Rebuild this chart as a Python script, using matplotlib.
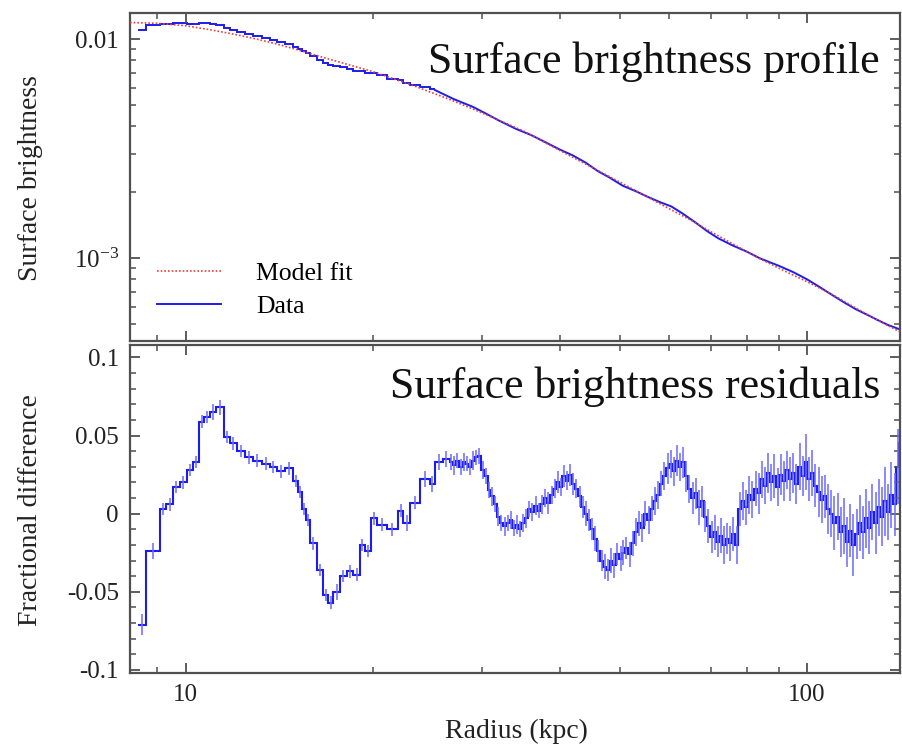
import numpy as np
import matplotlib
matplotlib.use("Agg")
import matplotlib.pyplot as plt
from matplotlib.ticker import LogLocator, NullFormatter, MultipleLocator, FixedLocator

# model fit (radius in kpc, surface brightness)
model_r = [8.13, 9, 10, 11, 12, 13, 14, 15, 17, 20, 23, 26.6, 30, 35, 40, 45, 50, 55,
           60, 65, 70, 76, 83, 90, 100, 110, 120, 130, 141.2]
model_sb = [0.0119, 0.0118, 0.0115, 0.0110, 0.0105, 0.0100, 0.0095, 0.0090, 0.0081, 0.0071,
            0.0062, 0.0053, 0.0046, 0.0038, 0.0031, 0.0026, 0.00222, 0.00192, 0.00168,
            0.00149, 0.00132, 0.00116, 0.00101, 0.00090, 0.00078, 0.00068, 0.00059,
            0.00052, 0.00046]

# data profile, binned in the core
sb_edges = [8.37, 8.62, 9.08, 9.30, 9.54, 9.78, 10.03, 10.27, 10.50, 10.70, 10.93, 11.20,
            11.51, 11.77, 12.07, 12.45, 12.84, 13.24, 13.66, 14.00, 14.43, 14.89, 15.17,
            15.36, 15.60, 15.84, 16.24, 16.64, 16.95, 17.27, 17.70, 18.15, 18.60, 19.06,
            19.42, 19.90, 20.28, 21.05, 21.98, 22.39, 22.95, 23.82, 24.72, 25.18]
sb_vals = [0.01103, 0.01154, 0.01174, 0.01172, 0.0118, 0.01178, 0.01175, 0.01172, 0.01186,
           0.01179, 0.01168, 0.01157, 0.0112, 0.01101, 0.01078, 0.01055, 0.01032, 0.01008,
           0.00987, 0.00966, 0.00947, 0.00918, 0.0090, 0.0088, 0.00863, 0.00835, 0.00804,
           0.00775, 0.0076, 0.00753, 0.00745, 0.00732, 0.00714, 0.00715, 0.00701, 0.00703,
           0.00685, 0.00659, 0.00649, 0.0063, 0.00618, 0.00607, 0.00591]
# data profile, outer part (fine bins)
sb_r_out = [25.18, 27, 29, 30.5, 32, 34, 36, 38, 40, 42, 44, 46, 48, 50.5, 53, 55.5, 58,
            60.5, 63, 66, 69, 72, 76, 80, 84, 90, 95, 100, 105, 110, 115, 120, 125, 130,
            135, 141.2]
sb_out = [0.00585, 0.00532, 0.00490, 0.00455, 0.00423, 0.00389, 0.00364, 0.00337, 0.00313,
          0.00294, 0.00273, 0.00250, 0.00234, 0.00214, 0.00202, 0.00190, 0.00180, 0.00172,
          0.00160, 0.00146, 0.00133, 0.00123, 0.00114, 0.00107, 0.000997, 0.000923,
          0.000863, 0.000800, 0.000735, 0.000676, 0.000625, 0.000583, 0.000551, 0.000521,
          0.000495, 0.000472]

# residual bins: edges, fractional difference, error
resid_edges = [8.37, 8.62, 9.08, 9.30, 9.54, 9.78, 10.03, 10.27, 10.50, 10.70, 10.93, 11.20,
               11.51, 11.77, 12.07, 12.45, 12.84, 13.24, 13.66, 14.00, 14.43, 14.89, 15.17,
               15.36, 15.60, 15.84, 16.24, 16.64, 16.95, 17.27, 17.70, 18.15, 18.60, 19.06,
               19.42, 19.90, 20.28, 21.05, 21.98, 22.39, 22.95, 23.82, 24.72, 25.18, 25.90,
               26.6, 26.9, 27.2, 27.5, 27.9, 28.2, 28.5, 28.9, 29.2, 29.5, 29.9, 30.2,
               30.6, 30.9, 31.3, 31.7, 32.0, 32.4, 32.8, 33.2, 33.5, 33.9, 34.3, 34.7,
               35.1, 35.5, 35.9, 36.4, 36.8, 37.2, 37.7, 38.1, 38.6, 39.0, 39.5, 39.9,
               40.4, 40.9, 41.3, 41.8, 42.3, 42.8, 43.3, 43.8, 44.3, 44.8, 45.4, 45.9,
               46.4, 47.0, 47.5, 48.1, 48.6, 49.2, 49.8, 50.4, 50.9, 51.5, 52.1, 52.7,
               53.4, 54.0, 54.6, 55.3, 55.9, 56.6, 57.2, 57.9, 58.6, 59.3, 60.0, 60.7,
               61.4, 62.1, 62.8, 63.6, 64.3, 65.1, 65.8, 66.6, 67.4, 68.2, 69.0, 69.8,
               70.6, 71.4, 72.3, 73.1, 74.0, 74.8, 75.7, 76.6, 77.5, 78.4, 79.3, 80.3,
               81.2, 82.2, 83.1, 84.1, 85.1, 86.1, 87.1, 88.1, 89.2, 90.2, 91.3, 92.3,
               93.4, 94.5, 95.6, 96.8, 97.9, 99.1, 100.2, 101.4, 102.6, 103.8, 105.0, 106.3,
               107.5, 108.8, 110.1, 111.4, 112.7, 114.0, 115.4, 116.7, 118.1, 119.5, 120.9, 122.3,
               123.8, 125.2, 126.7, 128.2, 129.7, 131.2, 132.8, 134.3, 135.9, 137.5, 139.2, 140.8,
               141.2]
resid_val = [-0.071, -0.024, 0.003, 0.006, 0.017, 0.020, 0.028, 0.033, 0.059, 0.062,
             0.065, 0.068, 0.049, 0.045, 0.040, 0.036, 0.034, 0.032, 0.030, 0.027,
             0.029, 0.021, 0.014, 0.003, -0.004, -0.019, -0.036, -0.052, -0.057, -0.050,
             -0.040, -0.037, -0.039, -0.020, -0.024, -0.003, -0.007, -0.010, 0.002, -0.006,
             0.007, 0.022, 0.019, 0.033, 0.035,
             0.033, 0.031, 0.034, 0.030, 0.033, 0.032, 0.030, 0.034, 0.036, 0.037, 0.028, 0.024,
             0.015, 0.011, 0.006, -0.002, -0.006, -0.008, -0.006, -0.004, -0.009, -0.007, -0.010, -0.006,
             -0.003, 0.003, 0.001, 0.005, 0.002, 0.006, 0.010, 0.007, 0.012, 0.016, 0.020, 0.017,
             0.024, 0.021, 0.025, 0.019, 0.016, 0.011, 0.004, 0.000, -0.004, -0.010, -0.016, -0.024,
             -0.030, -0.034, -0.036, -0.030, -0.033, -0.026, -0.029, -0.025, -0.022, -0.026, -0.019, -0.012,
             -0.006, -0.009, 0.000, -0.004, 0.003, 0.008, 0.012, 0.019, 0.024, 0.029, 0.032, 0.027,
             0.034, 0.030, 0.033, 0.024, 0.016, 0.010, 0.013, 0.004, 0.008, -0.002, -0.008, -0.015,
             -0.012, -0.018, -0.014, -0.020, -0.016, -0.019, -0.013, -0.020, 0.003, 0.008, 0.004, 0.012,
             0.009, 0.016, 0.013, 0.022, 0.018, 0.026, 0.020, 0.024, 0.017, 0.025, 0.021, 0.028,
             0.022, 0.026, 0.019, 0.030, 0.024, 0.033, 0.022, 0.026, 0.018, 0.014, 0.009, 0.011,
             0.003, 0.000, -0.006, -0.002, -0.012, -0.008, -0.018, -0.011, -0.020, -0.013, -0.006, -0.012,
             -0.003, -0.009, 0.001, -0.006, 0.004, -0.002, 0.008, 0.001, 0.012, 0.006, 0.030, 0.045]
resid_err = [0.007, 0.005, 0.004, 0.004, 0.004, 0.004, 0.004, 0.004, 0.004, 0.004,
             0.005, 0.005, 0.004, 0.004, 0.004, 0.004, 0.004, 0.004, 0.004, 0.004,
             0.004, 0.004, 0.004, 0.004, 0.004, 0.004, 0.004, 0.004, 0.004, 0.005,
             0.004, 0.004, 0.004, 0.004, 0.004, 0.004, 0.004, 0.004, 0.004, 0.005,
             0.004, 0.005, 0.005, 0.005, 0.005,
             0.005, 0.006, 0.005, 0.005, 0.006, 0.005, 0.005, 0.006, 0.005, 0.005, 0.006, 0.005,
             0.005, 0.006, 0.005, 0.006, 0.005, 0.006, 0.005, 0.006, 0.005, 0.006, 0.005, 0.006,
             0.006, 0.005, 0.006, 0.006, 0.005, 0.006, 0.006, 0.007, 0.006, 0.006, 0.007, 0.006,
             0.007, 0.006, 0.007, 0.007, 0.006, 0.007, 0.007, 0.008, 0.007, 0.007, 0.008, 0.007,
             0.007, 0.008, 0.007, 0.008, 0.008, 0.007, 0.008, 0.008, 0.007, 0.008, 0.008, 0.009,
             0.008, 0.009, 0.008, 0.009, 0.008, 0.009, 0.009, 0.008, 0.009, 0.010, 0.009, 0.009,
             0.010, 0.009, 0.010, 0.010, 0.009, 0.010, 0.010, 0.011, 0.010, 0.010, 0.011, 0.010,
             0.011, 0.010, 0.011, 0.012, 0.010, 0.011, 0.011, 0.012, 0.011, 0.012, 0.011, 0.012,
             0.012, 0.011, 0.013, 0.012, 0.012, 0.013, 0.012, 0.014, 0.012, 0.013, 0.013, 0.012,
             0.014, 0.013, 0.013, 0.015, 0.013, 0.018, 0.014, 0.015, 0.014, 0.016, 0.015, 0.014,
             0.016, 0.015, 0.017, 0.015, 0.016, 0.018, 0.016, 0.017, 0.020, 0.016, 0.018, 0.017,
             0.019, 0.017, 0.018, 0.020, 0.018, 0.019, 0.022, 0.018, 0.021, 0.020, 0.024, 0.022]

assert len(resid_edges) == len(resid_val) + 1 == len(resid_err) + 1
assert len(sb_edges) == len(sb_vals) + 1

plt.rcParams['font.family'] = ['Liberation Serif', 'DejaVu Serif']
plt.rcParams['mathtext.fontset'] = 'custom'
plt.rcParams['mathtext.rm'] = 'Liberation Serif'
plt.rcParams['mathtext.it'] = 'Liberation Serif:italic'

FG = '#505050'
BLUE = '#1c1cf0'
RED = '#e8403a'

fig = plt.figure(figsize=(9.02, 7.48), dpi=100)
ax_top = fig.add_axes([0.1441, 0.5441, 0.8537, 0.4385])
ax_bot = fig.add_axes([0.1441, 0.1003, 0.8537, 0.4385], sharex=ax_top)


def style(ax):
    for sp in ax.spines.values():
        sp.set_color(FG)
        sp.set_linewidth(1.6)
    ax.tick_params(which='both', direction='in', top=True, right=True, color=FG,
                   labelsize=18, labelcolor='#222222')
    ax.tick_params(which='major', length=7, width=1.3, pad=8)
    ax.tick_params(which='minor', length=4, width=1.1)


# top panel
ax_top.stairs(sb_vals, sb_edges, color=BLUE, lw=1.4, baseline=None)
ax_top.plot(sb_r_out, sb_out, color=BLUE, lw=1.4, label='Data')
ax_top.plot(model_r, model_sb, color=RED, lw=1.2, ls=(0, (1, 1.2)), label='Model fit', zorder=3)
ax_top.set_xscale('log')
ax_top.set_yscale('log')
ax_top.set_xlim(8.13, 141.2)
ax_top.set_ylim(4.18e-4, 0.01315)
ax_top.yaxis.set_major_locator(FixedLocator([1e-3, 1e-2]))
ax_top.set_yticklabels([r'$10^{-3}$', '0.01'])
ax_top.yaxis.set_minor_locator(LogLocator(base=10, subs=np.arange(2, 10)))
ax_top.yaxis.set_minor_formatter(NullFormatter())
style(ax_top)
ax_top.tick_params(axis='x', which='both', labelbottom=False)
ax_top.text(0.974, 0.85, 'Surface brightness profile', transform=ax_top.transAxes,
            ha='right', va='center', fontsize=31.5, color='#111111')
h, l = ax_top.get_legend_handles_labels()
ax_top.legend(h[::-1], l[::-1], loc='lower left', bbox_to_anchor=(0.005, 0.0),
              frameon=False, fontsize=18.5, handlelength=2.5, handletextpad=1.35,
              labelspacing=0.4)
fig.text(0.034, 0.762, 'Surface brightness', rotation=90, ha='center', va='center',
         fontsize=20, color='#222222')

# bottom panel
edges = np.array(resid_edges)
centers = np.sqrt(edges[:-1] * edges[1:])
ax_bot.errorbar(centers, resid_val, yerr=resid_err, fmt='none', ecolor='#6a6aff',
                elinewidth=1.3, alpha=0.85)
ax_bot.stairs(resid_val, resid_edges, color=BLUE, lw=1.5, baseline=None)
ax_bot.set_ylim(-0.102, 0.108)
ax_bot.yaxis.set_major_locator(FixedLocator([-0.1, -0.05, 0, 0.05, 0.1]))
ax_bot.set_yticklabels(['-0.1', '-0.05', '0', '0.05', '0.1'])
ax_bot.yaxis.set_minor_locator(MultipleLocator(0.01))
ax_bot.xaxis.set_major_locator(FixedLocator([10, 100]))
ax_bot.xaxis.set_minor_locator(LogLocator(base=10, subs=np.arange(2, 10)))
ax_bot.xaxis.set_minor_formatter(NullFormatter())
ax_bot.set_xticklabels(['10', '100'])
style(ax_bot)
ax_bot.text(0.974, 0.872, 'Surface brightness residuals', transform=ax_bot.transAxes,
            ha='right', va='center', fontsize=31.5, color='#111111')
fig.text(0.034, 0.318, 'Fractional difference', rotation=90, ha='center', va='center',
         fontsize=20, color='#222222')
fig.text(0.573, 0.022, 'Radius (kpc)', ha='center', va='center', fontsize=20, color='#222222')

fig.savefig('out.png', dpi=100)
